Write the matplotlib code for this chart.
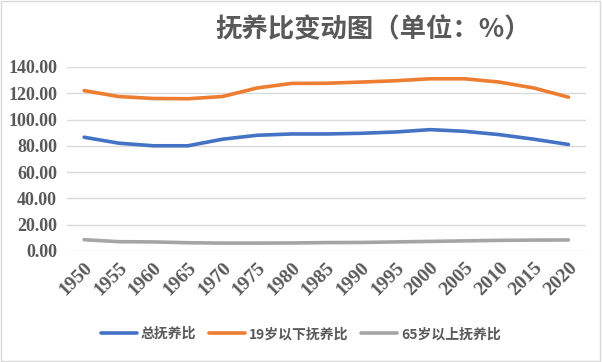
import matplotlib.pyplot as plt
from matplotlib.patches import Rectangle

# 数据
years = ['1950', '1955', '1960', '1965', '1970', '1975', '1980', '1985',
         '1990', '1995', '2000', '2005', '2010', '2015', '2020']
total = [86.5, 82.0, 80.0, 80.0, 85.0, 88.0, 89.0, 89.0,
         89.5, 90.5, 92.3, 91.0, 88.5, 85.0, 81.0]
young = [122.0, 117.5, 116.0, 115.8, 117.5, 124.0, 127.5, 127.6,
         128.5, 129.5, 131.0, 131.0, 128.5, 124.0, 117.0]
old = [8.5, 7.0, 6.8, 6.2, 5.9, 5.9, 6.0, 6.3,
       6.4, 6.8, 7.2, 7.6, 8.0, 8.2, 8.3]
yticks = [0, 20, 40, 60, 80, 100, 120, 140]

plt.rcParams['font.serif'] = ['Liberation Serif', 'DejaVu Serif']
cjk = ['Noto Sans CJK SC', 'DejaVu Sans']
txt_color = '#595959'

fig = plt.figure(figsize=(6.02, 3.62), dpi=100)
fig.patches.append(Rectangle((0.002, 0.003), 0.995, 0.993, transform=fig.transFigure,
                             fill=False, edgecolor='#D9D9D9', linewidth=1))
ax = fig.add_axes([0.111, 0.307, 0.862, 0.508])

x = list(range(len(years)))
ax.plot(x, total, color='#4472C4', linewidth=2.6, label='总抚养比', solid_capstyle='round')
ax.plot(x, young, color='#ED7D31', linewidth=2.6, label='19岁以下抚养比', solid_capstyle='round')
ax.plot(x, old, color='#A5A5A5', linewidth=2.6, label='65岁以上抚养比', solid_capstyle='round')

ax.set_xlim(-0.5, len(years) - 0.5)
ax.set_ylim(0, 140)
ax.set_yticks(yticks)
ax.set_yticklabels([f'{v:.2f}' for v in yticks], family='serif',
                   fontweight='bold', fontsize=13, color=txt_color)
ax.set_xticks(x)
ax.set_xticklabels(years, rotation=45, ha='right', rotation_mode='anchor',
                   family='serif', fontweight='bold', fontsize=14, color=txt_color)
ax.tick_params(axis='y', length=0, pad=7)
ax.tick_params(axis='x', length=0, pad=6)
ax.grid(axis='y', color='#D9D9D9', linewidth=1)
ax.set_axisbelow(True)
for s in ax.spines.values():
    s.set_visible(False)

fig.text(0.62, 0.917, '抚养比变动图（单位：%）', ha='center', va='center',
         fontsize=19, fontweight='bold', color=txt_color, family=cjk)

leg = ax.legend(loc='center', bbox_to_anchor=(0.5, 0.077), bbox_transform=fig.transFigure,
                ncol=3, frameon=False, handlelength=2.6, columnspacing=0.9, handletextpad=0.3,
                prop={'family': cjk, 'weight': 'bold', 'size': 10})
for t in leg.get_texts():
    t.set_color(txt_color)

fig.savefig('out.png', dpi=100)
